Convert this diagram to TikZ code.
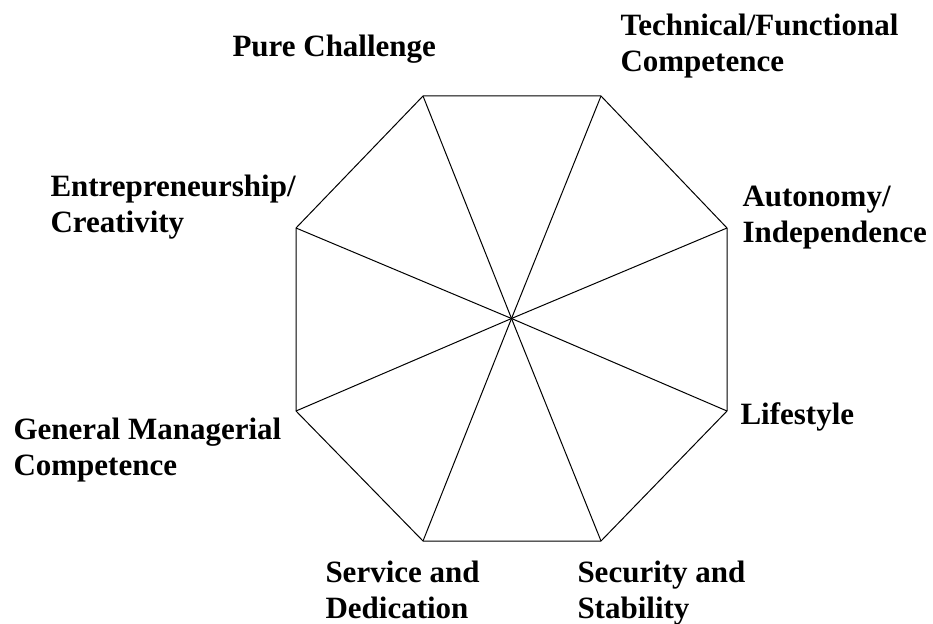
\documentclass[tikz,border=0pt]{standalone}
\usepackage{fontspec}
\setmainfont{Liberation Serif}
\usetikzlibrary{positioning}

\begin{document}
\begin{tikzpicture}[x=1pt,y=-1pt,line width=1pt]
	\tikzstyle{anchorname}=[font=\bfseries\fontsize{31}{36}\selectfont,align=left,inner sep=0pt,anchor=base west]
	
	\useasboundingbox (0,0) rectangle (933,623);
	
	% octagon corners and hub
	\coordinate (hub) at (511.5,318.5);
	\coordinate (v1) at (423,96);
	\coordinate (v2) at (601,96);
	\coordinate (v3) at (727,228);
	\coordinate (v4) at (727,411);
	\coordinate (v5) at (601,541);
	\coordinate (v6) at (423,541);
	\coordinate (v7) at (296,411);
	\coordinate (v8) at (296,228);
	
	\draw[line join=miter] (v1) -- (v2) -- (v3) -- (v4) -- (v5) -- (v6) -- (v7) -- (v8) -- cycle;
	\foreach \i in {1,...,8}
		\draw (hub) -- (v\i);
	
	% career anchors (base = last line)
	\node[anchorname](challenge) at (232,57){Pure Challenge};
	\node[anchorname](technical) at (620,72){Technical/Functional\\Competence};
	\node[anchorname](autonomy) at (742,242){Autonomy/\\Independence};
	\node[anchorname](lifestyle) at (740,424){Lifestyle};
	\node[anchorname](security) at (577,618){Security and\\Stability};
	\node[anchorname](service) at (325,618){Service and\\Dedication};
	\node[anchorname](managerial) at (13,475){General Managerial\\Competence};
	\node[anchorname](creativity) at (50,232){Entrepreneurship/\\Creativity};
\end{tikzpicture}
\end{document}
